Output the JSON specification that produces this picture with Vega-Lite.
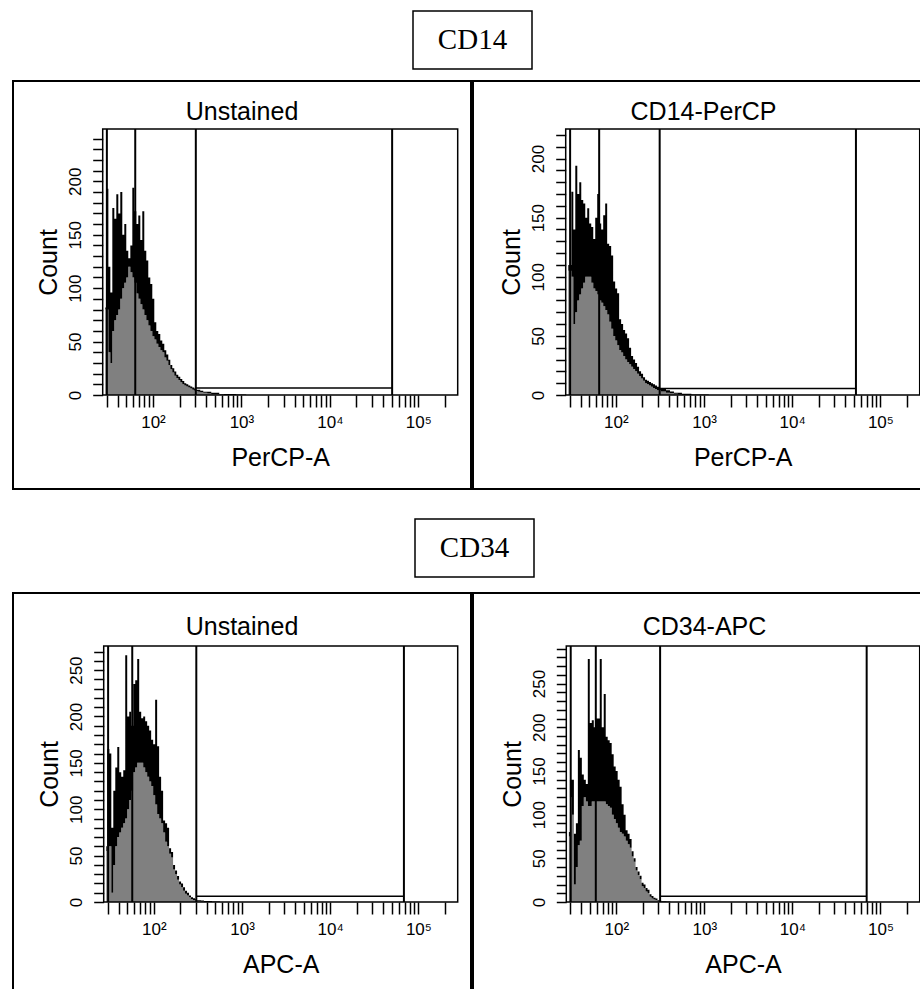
{
"$schema": "https://vega.github.io/schema/vega-lite/v6.json",
"background": "white",
"padding": {"top": 10, "left": 12, "right": 0, "bottom": 0},
"config": {
 "font": "Liberation Sans",
 "view": {"stroke": null},
 "axis": {"labelColor": "black", "titleColor": "black", "tickColor": "black", "titleFontWeight": "normal", "labelFont": "Liberation Sans", "titleFont": "Liberation Sans"},
 "title": {"font": "Liberation Sans", "fontSize": 25, "fontWeight": "normal", "color": "black"}
},
"datasets": {
 "tl": [
  {"x":28.9,"hi":82,"lo":80},{"x":30.5,"hi":193,"lo":80},{"x":32.1,"hi":120,"lo":40},{"x":33.8,"hi":96,"lo":30},{"x":35.6,"hi":175,"lo":60},{"x":37.5,"hi":165,"lo":70},{"x":39.5,"hi":188,"lo":75},{"x":41.6,"hi":170,"lo":80},{"x":43.8,"hi":190,"lo":90},{"x":46.2,"hi":150,"lo":100},{"x":48.6,"hi":160,"lo":105},{"x":51.2,"hi":135,"lo":110},{"x":54.0,"hi":128,"lo":120},{"x":56.9,"hi":140,"lo":115},{"x":59.9,"hi":194,"lo":110},{"x":63.1,"hi":172,"lo":105},{"x":66.5,"hi":160,"lo":95},{"x":70.0,"hi":168,"lo":90},{"x":73.8,"hi":145,"lo":85},{"x":77.7,"hi":172,"lo":80},{"x":81.8,"hi":135,"lo":75},{"x":86.2,"hi":126,"lo":70},{"x":90.8,"hi":110,"lo":65},{"x":95.7,"hi":104,"lo":60},{"x":100.8,"hi":90,"lo":55},{"x":106.2,"hi":68,"lo":52},{"x":111.8,"hi":60,"lo":48},{"x":117.8,"hi":57,"lo":45},{"x":124.1,"hi":51,"lo":42},{"x":130.8,"hi":48,"lo":40},{"x":137.7,"hi":42,"lo":35},{"x":145.1,"hi":38,"lo":32},{"x":152.9,"hi":33,"lo":28},{"x":161.0,"hi":28,"lo":24},{"x":169.6,"hi":25,"lo":21},{"x":178.6,"hi":22,"lo":18},{"x":188.2,"hi":19,"lo":16},{"x":198.3,"hi":17,"lo":14},{"x":208.9,"hi":15,"lo":12},{"x":220.0,"hi":13,"lo":10},{"x":231.7,"hi":11,"lo":9},{"x":244.1,"hi":10,"lo":8},{"x":257.2,"hi":9,"lo":7},{"x":270.9,"hi":8,"lo":6},{"x":285.4,"hi":7,"lo":5},{"x":300.6,"hi":6,"lo":4},{"x":316.7,"hi":5,"lo":3.5},{"x":333.6,"hi":5,"lo":3},{"x":351.4,"hi":4,"lo":2.5},{"x":390,"hi":3,"lo":2},{"x":433,"hi":3,"lo":1.5},{"x":480,"hi":2,"lo":1},{"x":533,"hi":2,"lo":1},{"x":591,"hi":1,"lo":0.5},{"x":673,"hi":1,"lo":0},{"x":767,"hi":1,"lo":0},{"x":995,"hi":0.5,"lo":0},{"x":1290,"hi":0,"lo":0}
 ],
 "tr": [
  {"x":28.9,"hi":110,"lo":105},{"x":30.5,"hi":110,"lo":105},{"x":32.1,"hi":172,"lo":100},{"x":33.8,"hi":140,"lo":60},{"x":35.6,"hi":194,"lo":70},{"x":37.5,"hi":170,"lo":80},{"x":39.5,"hi":180,"lo":85},{"x":41.6,"hi":165,"lo":90},{"x":43.8,"hi":162,"lo":95},{"x":46.2,"hi":150,"lo":100},{"x":48.6,"hi":158,"lo":100},{"x":51.2,"hi":145,"lo":100},{"x":54.0,"hi":142,"lo":95},{"x":56.9,"hi":132,"lo":90},{"x":59.9,"hi":150,"lo":88},{"x":63.1,"hi":170,"lo":85},{"x":66.5,"hi":145,"lo":80},{"x":70.0,"hi":140,"lo":78},{"x":73.8,"hi":152,"lo":75},{"x":77.7,"hi":162,"lo":72},{"x":81.8,"hi":128,"lo":68},{"x":86.2,"hi":126,"lo":62},{"x":90.8,"hi":118,"lo":56},{"x":95.7,"hi":96,"lo":50},{"x":100.8,"hi":90,"lo":46},{"x":106.2,"hi":86,"lo":42},{"x":111.8,"hi":64,"lo":38},{"x":117.8,"hi":60,"lo":36},{"x":124.1,"hi":55,"lo":33},{"x":130.8,"hi":52,"lo":30},{"x":137.7,"hi":48,"lo":28},{"x":145.1,"hi":40,"lo":26},{"x":152.9,"hi":33,"lo":24},{"x":161.0,"hi":30,"lo":22},{"x":169.6,"hi":27,"lo":20},{"x":178.6,"hi":24,"lo":18},{"x":188.2,"hi":20,"lo":16},{"x":198.3,"hi":18,"lo":14},{"x":208.9,"hi":15,"lo":12},{"x":220.0,"hi":13,"lo":10},{"x":231.7,"hi":12,"lo":9},{"x":244.1,"hi":11,"lo":8},{"x":257.2,"hi":10,"lo":7},{"x":270.9,"hi":9,"lo":6},{"x":285.4,"hi":8,"lo":5},{"x":300.6,"hi":7,"lo":4},{"x":316.7,"hi":6,"lo":4},{"x":333.6,"hi":5,"lo":3},{"x":351.4,"hi":5,"lo":3},{"x":390,"hi":4,"lo":2},{"x":433,"hi":3,"lo":1.5},{"x":480,"hi":2,"lo":1},{"x":533,"hi":2,"lo":0.5},{"x":591,"hi":1,"lo":0},{"x":673,"hi":1,"lo":0},{"x":767,"hi":0.5,"lo":0},{"x":995,"hi":0.5,"lo":0},{"x":1290,"hi":0,"lo":0}
 ],
 "bl": [
  {"x":28.9,"hi":60,"lo":55},{"x":30.5,"hi":165,"lo":60},{"x":32.1,"hi":160,"lo":60},{"x":33.8,"hi":80,"lo":10},{"x":35.6,"hi":120,"lo":40},{"x":37.5,"hi":145,"lo":60},{"x":39.5,"hi":167,"lo":70},{"x":41.6,"hi":140,"lo":75},{"x":43.8,"hi":135,"lo":80},{"x":46.2,"hi":142,"lo":85},{"x":48.6,"hi":266,"lo":90},{"x":51.2,"hi":200,"lo":100},{"x":54.0,"hi":205,"lo":110},{"x":56.9,"hi":190,"lo":120},{"x":59.9,"hi":235,"lo":140},{"x":63.1,"hi":239,"lo":145},{"x":66.5,"hi":262,"lo":150},{"x":70.0,"hi":205,"lo":150},{"x":73.8,"hi":198,"lo":150},{"x":77.7,"hi":200,"lo":145},{"x":81.8,"hi":195,"lo":140},{"x":86.2,"hi":190,"lo":135},{"x":90.8,"hi":185,"lo":130},{"x":95.7,"hi":175,"lo":125},{"x":100.8,"hi":170,"lo":115},{"x":106.2,"hi":218,"lo":105},{"x":111.8,"hi":168,"lo":95},{"x":117.8,"hi":135,"lo":90},{"x":124.1,"hi":120,"lo":85},{"x":130.8,"hi":88,"lo":75},{"x":137.7,"hi":85,"lo":65},{"x":145.1,"hi":80,"lo":60},{"x":152.9,"hi":58,"lo":52},{"x":161.0,"hi":54,"lo":48},{"x":169.6,"hi":40,"lo":35},{"x":178.6,"hi":34,"lo":30},{"x":188.2,"hi":28,"lo":24},{"x":198.3,"hi":22,"lo":19},{"x":208.9,"hi":20,"lo":16},{"x":220.0,"hi":16,"lo":12},{"x":231.7,"hi":12,"lo":9},{"x":244.1,"hi":10,"lo":7},{"x":257.2,"hi":7,"lo":5},{"x":270.9,"hi":5,"lo":3},{"x":285.4,"hi":4,"lo":2},{"x":300.6,"hi":3,"lo":1.5},{"x":316.7,"hi":2,"lo":1},{"x":333.6,"hi":2,"lo":1},{"x":351.4,"hi":1.5,"lo":0.5},{"x":390,"hi":1,"lo":0},{"x":433,"hi":1,"lo":0},{"x":480,"hi":0.5,"lo":0},{"x":533,"hi":0.5,"lo":0},{"x":591,"hi":0,"lo":0}
 ],
 "br": [
  {"x":28.9,"hi":80,"lo":75},{"x":30.5,"hi":140,"lo":120},{"x":32.1,"hi":140,"lo":100},{"x":33.8,"hi":78,"lo":20},{"x":35.6,"hi":90,"lo":40},{"x":37.5,"hi":174,"lo":65},{"x":39.5,"hi":165,"lo":70},{"x":41.6,"hi":146,"lo":110},{"x":43.8,"hi":140,"lo":120},{"x":46.2,"hi":135,"lo":115},{"x":48.6,"hi":278,"lo":110},{"x":51.2,"hi":205,"lo":110},{"x":54.0,"hi":208,"lo":115},{"x":56.9,"hi":200,"lo":115},{"x":59.9,"hi":210,"lo":115},{"x":63.1,"hi":210,"lo":115},{"x":66.5,"hi":278,"lo":115},{"x":70.0,"hi":200,"lo":115},{"x":73.8,"hi":238,"lo":115},{"x":77.7,"hi":189,"lo":112},{"x":81.8,"hi":185,"lo":110},{"x":86.2,"hi":182,"lo":108},{"x":90.8,"hi":169,"lo":100},{"x":95.7,"hi":155,"lo":95},{"x":100.8,"hi":150,"lo":90},{"x":106.2,"hi":140,"lo":85},{"x":111.8,"hi":132,"lo":80},{"x":117.8,"hi":112,"lo":78},{"x":124.1,"hi":100,"lo":75},{"x":130.8,"hi":82,"lo":70},{"x":137.7,"hi":78,"lo":66},{"x":145.1,"hi":72,"lo":62},{"x":152.9,"hi":58,"lo":52},{"x":161.0,"hi":50,"lo":46},{"x":169.6,"hi":40,"lo":36},{"x":178.6,"hi":35,"lo":31},{"x":188.2,"hi":30,"lo":26},{"x":198.3,"hi":22,"lo":18},{"x":208.9,"hi":20,"lo":16},{"x":220.0,"hi":16,"lo":12},{"x":231.7,"hi":14,"lo":10},{"x":244.1,"hi":9,"lo":6},{"x":257.2,"hi":7,"lo":4},{"x":270.9,"hi":5,"lo":3},{"x":285.4,"hi":4,"lo":2},{"x":300.6,"hi":2,"lo":1},{"x":316.7,"hi":1.5,"lo":0.5},{"x":333.6,"hi":1,"lo":0},{"x":351.4,"hi":1,"lo":0},{"x":390,"hi":0.5,"lo":0},{"x":433,"hi":0,"lo":0}
 ]
},
"spacing": 28,
"vconcat": [
 {"spacing": 10, "vconcat": [
  {"spacing": 0, "hconcat": [
   {"width": 399, "height": 58, "view": {"stroke": null, "fill": "white"}, "data": {"values": []}, "mark": "point", "encoding": {}},
   {"width": 119, "height": 58, "view": {"stroke": "black", "strokeWidth": 1.5, "fill": "white"}, "data": {"values": [{"t": "CD14"}]}, "mark": {"type": "text", "font": "Liberation Serif", "fontSize": 29, "color": "black", "baseline": "middle"}, "encoding": {"text": {"field": "t"}}}
  ]},
  {"spacing": 0, "hconcat": [
   {"width": 458, "height": 408, "view": {"stroke": "black", "strokeWidth": 2},
    "title": {"text": "Unstained", "offset": -44, "frame": "group", "anchor": "middle"},
    "layer": [
     {"data": {"name": "tl"}, "mark": {"type": "area", "interpolate": "step", "color": "#808080"},
      "encoding": {
       "x": {"field": "x", "type": "quantitative", "scale": {"type": "log", "domain": [27, 279000], "range": [89.7, 444.7], "nice": false},
        "axis": {"orient": "bottom", "offset": -94, "domain": false, "grid": false, "values": [30,40,50,60,70,80,90,100,200,300,400,500,600,700,800,900,1000,2000,3000,4000,5000,6000,7000,8000,9000,10000,20000,30000,40000,50000,60000,70000,80000,90000,100000,200000], "labelExpr": "datum.value===100?'10²':datum.value===1000?'10³':datum.value===10000?'10⁴':datum.value===100000?'10⁵':''", "tickSize": 12, "tickWidth": 1.5, "labelFontSize": 17, "labelPadding": 7, "labelOverlap": false, "labelFlush": false, "title": "PerCP-A", "titleFontSize": 25, "titlePadding": 15}},
       "y": {"field": "lo", "type": "quantitative", "scale": {"domain": [0, 249], "range": [314, 48], "nice": false, "zero": false},
        "axis": {"orient": "left", "offset": -89.7, "domain": false, "grid": false, "tickCount": 200, "values": [0,10,20,30,40,50,60,70,80,90,100,110,120,130,140,150,160,170,180,190,200,210,220,230,240], "labelExpr": "datum.value % 50 === 0 ? datum.label : ''", "labelAngle": -90, "labelAlign": "center", "labelBaseline": "bottom", "labelFontSize": 17, "labelPadding": 8, "tickSize": 10, "tickWidth": 1.5, "labelOverlap": false, "labelFlush": false, "title": "Count", "titleFontSize": 25, "titlePadding": 5}}
      }},
     {"data": {"name": "tl"}, "mark": {"type": "area", "interpolate": "step", "color": "black"},
      "encoding": {"x": {"field": "x", "type": "quantitative"}, "y": {"field": "hi", "type": "quantitative"}, "y2": {"field": "lo"}}},
     {"data": {"values": [{"g": 30.1}, {"g": 63}, {"g": 305}, {"g": 50600}]}, "mark": {"type": "rule", "color": "black", "strokeWidth": 2},
      "encoding": {"x": {"field": "g", "type": "quantitative"}, "y": {"datum": 0, "type": "quantitative"}, "y2": {"datum": 249}}},
     {"data": {"values": [{"a": 305, "b": 50600, "c": 6.5}]}, "mark": {"type": "rule", "color": "black", "strokeWidth": 1.5},
      "encoding": {"x": {"field": "a", "type": "quantitative"}, "x2": {"field": "b"}, "y": {"field": "c", "type": "quantitative"}}},
     {"data": {"values": [{}]}, "mark": {"type": "rect", "fillOpacity": 0, "stroke": "black", "strokeWidth": 1.5},
      "encoding": {"x": {"datum": 27, "type": "quantitative"}, "x2": {"datum": 279000}, "y": {"datum": 0, "type": "quantitative"}, "y2": {"datum": 249}}}
    ]},
   {"width": 449, "height": 408, "view": {"stroke": "black", "strokeWidth": 2},
    "title": {"text": "CD14-PerCP", "offset": -44, "frame": "group", "anchor": "middle", "dx": 6},
    "layer": [
     {"data": {"name": "tr"}, "mark": {"type": "area", "interpolate": "step", "color": "#808080"},
      "encoding": {
       "x": {"field": "x", "type": "quantitative", "scale": {"type": "log", "domain": [27, 279000], "range": [92.7, 446.7], "nice": false},
        "axis": {"orient": "bottom", "offset": -94, "domain": false, "grid": false, "values": [30,40,50,60,70,80,90,100,200,300,400,500,600,700,800,900,1000,2000,3000,4000,5000,6000,7000,8000,9000,10000,20000,30000,40000,50000,60000,70000,80000,90000,100000,200000], "labelExpr": "datum.value===100?'10²':datum.value===1000?'10³':datum.value===10000?'10⁴':datum.value===100000?'10⁵':''", "tickSize": 12, "tickWidth": 1.5, "labelFontSize": 17, "labelPadding": 7, "labelOverlap": false, "labelFlush": false, "title": "PerCP-A", "titleFontSize": 25, "titlePadding": 15}},
       "y": {"field": "lo", "type": "quantitative", "scale": {"domain": [0, 225], "range": [314, 48], "nice": false, "zero": false},
        "axis": {"orient": "left", "offset": -92.7, "domain": false, "grid": false, "tickCount": 200, "values": [0,10,20,30,40,50,60,70,80,90,100,110,120,130,140,150,160,170,180,190,200,210,220], "labelExpr": "datum.value % 50 === 0 ? datum.label : ''", "labelAngle": -90, "labelAlign": "center", "labelBaseline": "bottom", "labelFontSize": 17, "labelPadding": 8, "tickSize": 10, "tickWidth": 1.5, "labelOverlap": false, "labelFlush": false, "title": "Count", "titleFontSize": 25, "titlePadding": 5}}
      }},
     {"data": {"name": "tr"}, "mark": {"type": "area", "interpolate": "step", "color": "black"},
      "encoding": {"x": {"field": "x", "type": "quantitative"}, "y": {"field": "hi", "type": "quantitative"}, "y2": {"field": "lo"}}},
     {"data": {"values": [{"g": 30.3}, {"g": 64.7}, {"g": 314}, {"g": 52800}]}, "mark": {"type": "rule", "color": "black", "strokeWidth": 2},
      "encoding": {"x": {"field": "g", "type": "quantitative"}, "y": {"datum": 0, "type": "quantitative"}, "y2": {"datum": 225}}},
     {"data": {"values": [{"a": 314, "b": 52800, "c": 5.6}]}, "mark": {"type": "rule", "color": "black", "strokeWidth": 1.5},
      "encoding": {"x": {"field": "a", "type": "quantitative"}, "x2": {"field": "b"}, "y": {"field": "c", "type": "quantitative"}}},
     {"data": {"values": [{}]}, "mark": {"type": "rect", "fillOpacity": 0, "stroke": "black", "strokeWidth": 1.5},
      "encoding": {"x": {"datum": 27, "type": "quantitative"}, "x2": {"datum": 279000}, "y": {"datum": 0, "type": "quantitative"}, "y2": {"datum": 225}}}
    ]}
  ]}
 ]},
 {"spacing": 14, "vconcat": [
  {"spacing": 0, "hconcat": [
   {"width": 401, "height": 58, "view": {"stroke": null, "fill": "white"}, "data": {"values": []}, "mark": "point", "encoding": {}},
   {"width": 119, "height": 58, "view": {"stroke": "black", "strokeWidth": 1.5, "fill": "white"}, "data": {"values": [{"t": "CD34"}]}, "mark": {"type": "text", "font": "Liberation Serif", "fontSize": 29, "color": "black", "baseline": "middle"}, "encoding": {"text": {"field": "t"}}}
  ]},
  {"spacing": 0, "hconcat": [
   {"width": 458, "height": 402, "view": {"stroke": "black", "strokeWidth": 2},
    "title": {"text": "Unstained", "offset": -47, "frame": "group", "anchor": "middle"},
    "layer": [
     {"data": {"name": "bl"}, "mark": {"type": "area", "interpolate": "step", "color": "#808080"},
      "encoding": {
       "x": {"field": "x", "type": "quantitative", "scale": {"type": "log", "domain": [27, 279000], "range": [90.7, 444.7], "nice": false},
        "axis": {"orient": "bottom", "offset": -93, "domain": false, "grid": false, "values": [30,40,50,60,70,80,90,100,200,300,400,500,600,700,800,900,1000,2000,3000,4000,5000,6000,7000,8000,9000,10000,20000,30000,40000,50000,60000,70000,80000,90000,100000,200000], "labelExpr": "datum.value===100?'10²':datum.value===1000?'10³':datum.value===10000?'10⁴':datum.value===100000?'10⁵':''", "tickSize": 12, "tickWidth": 1.5, "labelFontSize": 17, "labelPadding": 7, "labelOverlap": false, "labelFlush": false, "title": "APC-A", "titleFontSize": 25, "titlePadding": 15}},
       "y": {"field": "lo", "type": "quantitative", "scale": {"domain": [0, 276], "range": [309, 53], "nice": false, "zero": false},
        "axis": {"orient": "left", "offset": -90.7, "domain": false, "grid": false, "tickCount": 200, "values": [0,10,20,30,40,50,60,70,80,90,100,110,120,130,140,150,160,170,180,190,200,210,220,230,240,250,260,270], "labelExpr": "datum.value % 50 === 0 ? datum.label : ''", "labelAngle": -90, "labelAlign": "center", "labelBaseline": "bottom", "labelFontSize": 17, "labelPadding": 8, "tickSize": 10, "tickWidth": 1.5, "labelOverlap": false, "labelFlush": false, "title": "Count", "titleFontSize": 25, "titlePadding": 5}}
      }},
     {"data": {"name": "bl"}, "mark": {"type": "area", "interpolate": "step", "color": "black"},
      "encoding": {"x": {"field": "x", "type": "quantitative"}, "y": {"field": "hi", "type": "quantitative"}, "y2": {"field": "lo"}}},
     {"data": {"values": [{"g": 30.3}, {"g": 56.9}, {"g": 303}, {"g": 68500}]}, "mark": {"type": "rule", "color": "black", "strokeWidth": 2},
      "encoding": {"x": {"field": "g", "type": "quantitative"}, "y": {"datum": 0, "type": "quantitative"}, "y2": {"datum": 276}}},
     {"data": {"values": [{"a": 303, "b": 68500, "c": 6.1}]}, "mark": {"type": "rule", "color": "black", "strokeWidth": 1.5},
      "encoding": {"x": {"field": "a", "type": "quantitative"}, "x2": {"field": "b"}, "y": {"field": "c", "type": "quantitative"}}},
     {"data": {"values": [{}]}, "mark": {"type": "rect", "fillOpacity": 0, "stroke": "black", "strokeWidth": 1.5},
      "encoding": {"x": {"datum": 27, "type": "quantitative"}, "x2": {"datum": 279000}, "y": {"datum": 0, "type": "quantitative"}, "y2": {"datum": 276}}}
    ]},
   {"width": 449, "height": 402, "view": {"stroke": "black", "strokeWidth": 2},
    "title": {"text": "CD34-APC", "offset": -47, "frame": "group", "anchor": "middle", "dx": 7},
    "layer": [
     {"data": {"name": "br"}, "mark": {"type": "area", "interpolate": "step", "color": "#808080"},
      "encoding": {
       "x": {"field": "x", "type": "quantitative", "scale": {"type": "log", "domain": [27, 279000], "range": [93.3, 446.7], "nice": false},
        "axis": {"orient": "bottom", "offset": -93, "domain": false, "grid": false, "values": [30,40,50,60,70,80,90,100,200,300,400,500,600,700,800,900,1000,2000,3000,4000,5000,6000,7000,8000,9000,10000,20000,30000,40000,50000,60000,70000,80000,90000,100000,200000], "labelExpr": "datum.value===100?'10²':datum.value===1000?'10³':datum.value===10000?'10⁴':datum.value===100000?'10⁵':''", "tickSize": 12, "tickWidth": 1.5, "labelFontSize": 17, "labelPadding": 7, "labelOverlap": false, "labelFlush": false, "title": "APC-A", "titleFontSize": 25, "titlePadding": 15}},
       "y": {"field": "lo", "type": "quantitative", "scale": {"domain": [0, 293], "range": [309, 53], "nice": false, "zero": false},
        "axis": {"orient": "left", "offset": -93.3, "domain": false, "grid": false, "tickCount": 200, "values": [0,10,20,30,40,50,60,70,80,90,100,110,120,130,140,150,160,170,180,190,200,210,220,230,240,250,260,270,280,290], "labelExpr": "datum.value % 50 === 0 ? datum.label : ''", "labelAngle": -90, "labelAlign": "center", "labelBaseline": "bottom", "labelFontSize": 17, "labelPadding": 8, "tickSize": 10, "tickWidth": 1.5, "labelOverlap": false, "labelFlush": false, "title": "Count", "titleFontSize": 25, "titlePadding": 5}}
      }},
     {"data": {"name": "br"}, "mark": {"type": "area", "interpolate": "step", "color": "black"},
      "encoding": {"x": {"field": "x", "type": "quantitative"}, "y": {"field": "hi", "type": "quantitative"}, "y2": {"field": "lo"}}},
     {"data": {"values": [{"g": 30.3}, {"g": 58.4}, {"g": 314}, {"g": 69700}]}, "mark": {"type": "rule", "color": "black", "strokeWidth": 2},
      "encoding": {"x": {"field": "g", "type": "quantitative"}, "y": {"datum": 0, "type": "quantitative"}, "y2": {"datum": 293}}},
     {"data": {"values": [{"a": 314, "b": 69700, "c": 6.5}]}, "mark": {"type": "rule", "color": "black", "strokeWidth": 1.5},
      "encoding": {"x": {"field": "a", "type": "quantitative"}, "x2": {"field": "b"}, "y": {"field": "c", "type": "quantitative"}}},
     {"data": {"values": [{}]}, "mark": {"type": "rect", "fillOpacity": 0, "stroke": "black", "strokeWidth": 1.5},
      "encoding": {"x": {"datum": 27, "type": "quantitative"}, "x2": {"datum": 279000}, "y": {"datum": 0, "type": "quantitative"}, "y2": {"datum": 293}}}
    ]}
  ]}
 ]}
]
}
